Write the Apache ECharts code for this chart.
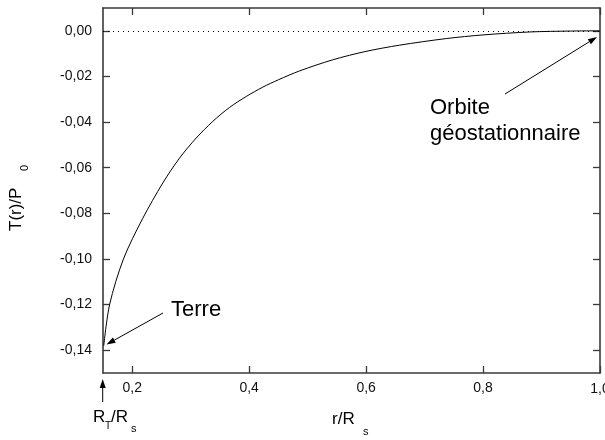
<!DOCTYPE html>
<html>
<head>
<meta charset="utf-8">
<script src="https://cdn.jsdelivr.net/npm/echarts@6/dist/echarts.min.js"></script>
<style>html,body{margin:0;padding:0;background:#fff}#c{width:605px;height:440px}</style>
</head>
<body>
<div id="c"></div>
<script>
// Data
var rValues = [0.1513, 0.1613, 0.185, 0.218, 0.2523, 0.2809, 0.3094, 0.3378, 0.3663, 0.3949, 0.4232, 0.4506, 0.486, 0.543, 0.600, 0.657, 0.737, 0.80, 0.88, 0.95, 1.0];
var tValues = [-0.1380, -0.1200, -0.1000, -0.0822, -0.0667, -0.0558, -0.0470, -0.0397, -0.0336, -0.0288, -0.0247, -0.0214, -0.0176, -0.0127, -0.0090, -0.0063, -0.0034, -0.0018, -0.0005, -0.0001, 0.0];
var xTicks = [0.2, 0.4, 0.6, 0.8, 1.0];
var yTicks = [-0.14, -0.12, -0.10, -0.08, -0.06, -0.04, -0.02, 0.00];

var FONT = '"Liberation Sans", Arial, sans-serif';
var AXC = '#3a3a3a';
var chart = echarts.init(document.getElementById('c'), null, {renderer: 'canvas'});

var pts = rValues.map(function (r, i) { return [r, tValues[i]]; });

function fmtX(v) { return (Math.round(v * 10) / 10).toFixed(1).replace('.', ','); }
function fmtY(v) { var s = (Math.round(v * 100) / 100).toFixed(2).replace('.', ','); return s === '-0,00' ? '0,00' : s; }

function axisX(pos, labels) {
  return {
    type: 'value', position: pos, min: 0.15, max: 1.0,
    axisLine: {show: true, onZero: false, lineStyle: {color: AXC, width: 1.6}},
    axisTick: {show: true, inside: true, length: 7, customValues: xTicks, lineStyle: {color: AXC, width: 1.3}},
    axisLabel: {show: labels, customValues: xTicks.slice(0, 4), formatter: fmtX, color: '#111', fontSize: 14, fontFamily: FONT, margin: 8},
    splitLine: {show: false}
  };
}
function axisY(pos, labels) {
  return {
    type: 'value', position: pos, min: -0.15, max: 0.01,
    axisLine: {show: true, onZero: false, lineStyle: {color: AXC, width: 1.6}},
    axisTick: {show: true, inside: true, length: 7, customValues: yTicks, lineStyle: {color: AXC, width: 1.3}},
    axisLabel: {show: labels, customValues: yTicks, formatter: fmtY, color: '#111', fontSize: 14, fontFamily: FONT, margin: 11},
    splitLine: {show: false}
  };
}

function arrow(x1, y1, x2, y2) {
  var dx = x2 - x1, dy = y2 - y1, L = Math.sqrt(dx * dx + dy * dy);
  var ux = dx / L, uy = dy / L, hl = 9, hw = 3;
  var bx = x2 - ux * hl, by = y2 - uy * hl;
  return [
    {type: 'line', shape: {x1: x1, y1: y1, x2: bx, y2: by}, style: {stroke: '#000', lineWidth: 1}},
    {type: 'polygon', shape: {points: [[x2, y2], [bx - uy * hw, by + ux * hw], [bx + uy * hw, by - ux * hw]]}, style: {fill: '#000'}}
  ];
}

function txt(x, y, s, size, align, rot, color) {
  return {type: 'text', x: x, y: y, rotation: rot || 0,
    style: {text: s, fill: color || '#000', font: size + 'px ' + FONT, textAlign: align || 'left', textVerticalAlign: 'bottom'}};
}

chart.setOption({
  animation: false,
  backgroundColor: '#fff',
  grid: {left: 103, right: 5, top: 8, bottom: 67},
  xAxis: [axisX('bottom', true), axisX('top', false)],
  yAxis: [axisY('left', true), axisY('right', false)],
  series: [{
    type: 'line', data: pts, showSymbol: false, smooth: 0.3,
    lineStyle: {color: '#000', width: 1}, silent: true,
    markLine: {
      silent: true, symbol: ['none', 'none'], label: {show: false},
      lineStyle: {color: '#000', width: 1, type: [1, 4]},
      data: [{yAxis: 0}]
    }
  }]
});

// last x tick label (cut by the page edge, as in the reference), placed at the axis position of 1.0
var p1 = chart.convertToPixel({xAxisIndex: 0}, xTicks[4]);
var graphics = []
  .concat(arrow(163, 313, 106.5, 344.5))
  .concat(arrow(505, 94, 597, 37))
  .concat(arrow(102.7, 402, 102.7, 379))
  .concat([
    txt(p1, 396, fmtX(xTicks[4]), 14, 'center', 0, '#111'),
    txt(171, 321, 'Terre', 22),
    txt(430, 119, 'Orbite', 22),
    txt(430, 145, 'géostationnaire', 22),
    txt(332, 428, 'r/R', 17),
    txt(363, 437, 's', 11),
    txt(93, 426, 'R', 17),
    txt(105, 431, 'T', 10),
    txt(111, 426, '/R', 17),
    txt(131, 434, 's', 11),
    txt(25, 231, 'T(r)/P', 17, 'left', Math.PI / 2),
    txt(30, 171, '0', 11, 'left', Math.PI / 2)
  ]);
chart.setOption({graphic: graphics});
</script>
</body>
</html>
